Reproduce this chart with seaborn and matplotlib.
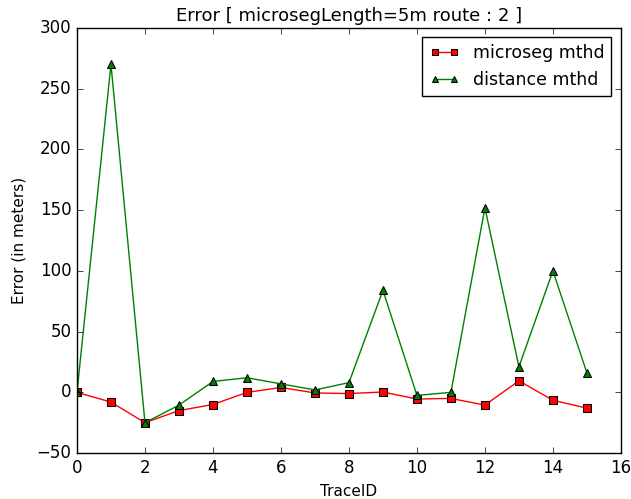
import matplotlib
matplotlib.use("Agg")
import matplotlib.pyplot as plt
import seaborn as sns
import numpy as np

trace_ids = list(range(16))
microseg = [0, -8, -25, -15, -10, 0, 4, -0.5, -1, 0.3, -5.5, -5, -10.5, 9.5, -6.5, -13]
distance = [0, 270, -25, -10.5, 9, 12, 7, 2, 8, 84, -2.5, 0, 152, 21, 100, 16]

plt.style.use("classic")
plt.rcParams["font.family"] = ["DejaVu Sans"]

fig = plt.figure(figsize=(6.31, 4.99), dpi=100, facecolor="white")
ax = fig.add_subplot(111)
fig.subplots_adjust(left=0.122, right=0.984, top=0.944, bottom=0.092)

sns.lineplot(x=trace_ids, y=microseg, ax=ax, color="red", marker="s", markersize=5.5,
             markeredgecolor="black", markerfacecolor="red", linewidth=1,
             label="microseg mthd", sort=False)
sns.lineplot(x=trace_ids, y=distance, ax=ax, color="green", marker="^", markersize=5.5,
             markeredgecolor="black", markerfacecolor="green", linewidth=1,
             label="distance mthd", sort=False)

ax.set_xlim(0, 16)
ax.set_ylim(-50, 300)
ax.set_xticks(range(0, 17, 2))
ax.set_yticks(range(-50, 301, 50))
ax.set_xlabel("TraceID", fontsize=11)
ax.set_ylabel("Error (in meters)", fontsize=11, labelpad=7)
ax.set_title("Error [ microsegLength=5m route : 2 ]", fontsize=13)
ax.tick_params(direction="in", top=True, right=True, labelsize=12)
ax.legend(loc="upper right", numpoints=2, fontsize=12.5, frameon=True, fancybox=False,
          markerscale=0.8, handlelength=1.7, borderaxespad=0.55)

fig.savefig("out.png", dpi=100, facecolor="white")
